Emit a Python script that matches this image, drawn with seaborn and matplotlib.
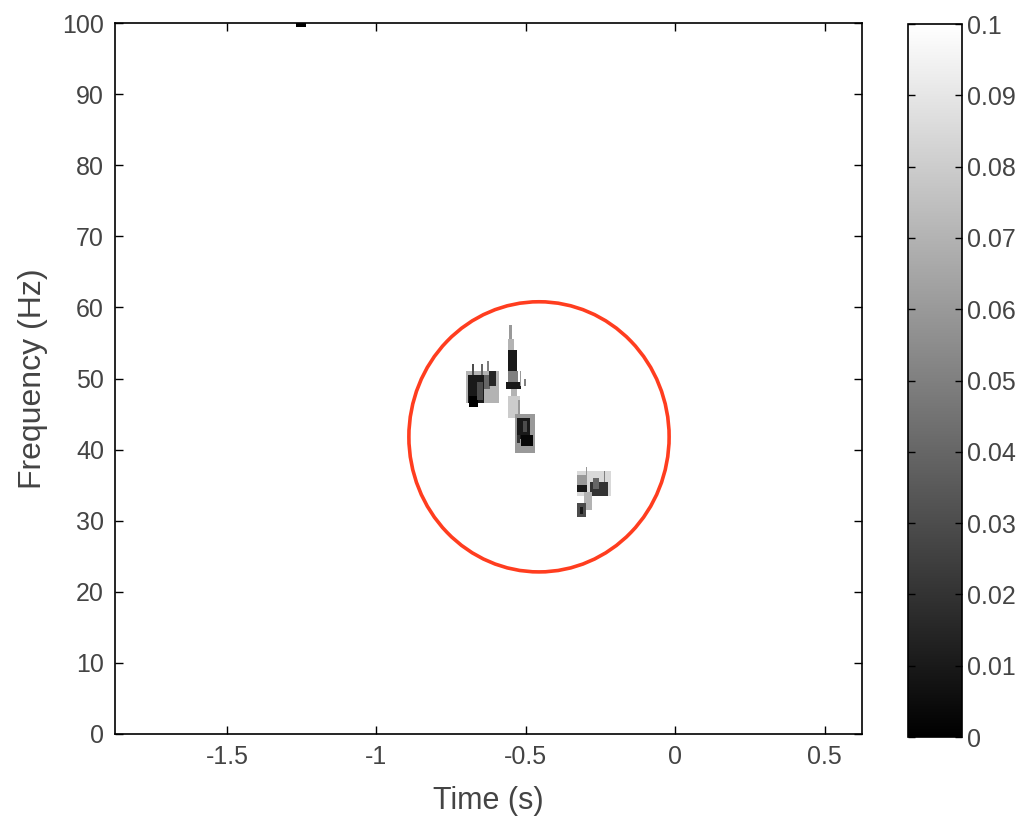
import numpy as np
import matplotlib
matplotlib.use("Agg")
import matplotlib.pyplot as plt
import seaborn as sns
from matplotlib.patches import Ellipse

# time / frequency grid of the map
t_start, t_stop, t_step = -1.875, 0.625, 0.005
f_start, f_stop, f_step = 0.0, 100.0, 0.5
background = 0.1

# low-value patches (time s, frequency Hz, value)
patch_t0 = [-0.700, -0.695, -0.690, -0.665, -0.640, -0.625, -0.680, -0.650, -0.628,
            -0.553, -0.560, -0.562, -0.560, -0.565, -0.548, -0.520, -0.505,
            -0.560, -0.535, -0.528, -0.514, -0.510, -0.530, -0.525,
            -0.332, -0.330, -0.330, -0.285, -0.275, -0.305, -0.328, -0.322, -0.300, -0.240,
            -1.270]
patch_t1 = [-0.590, -0.640, -0.660, -0.645, -0.620, -0.600, -0.675, -0.645, -0.623,
            -0.547, -0.540, -0.530, -0.525, -0.515, -0.528, -0.515, -0.500,
            -0.520, -0.470, -0.485, -0.477, -0.495, -0.520, -0.520,
            -0.215, -0.295, -0.295, -0.225, -0.255, -0.280, -0.298, -0.310, -0.295, -0.235,
            -1.235]
patch_f0 = [46.5, 46.5, 46.0, 47.0, 48.5, 49.0, 50.5, 50.5, 51.0,
            55.0, 53.5, 51.0, 48.8, 48.3, 45.5, 49.0, 49.0,
            44.5, 39.5, 41.5, 40.5, 42.5, 41.0, 45.0,
            33.5, 35.0, 34.0, 33.5, 34.5, 31.5, 30.5, 31.0, 36.0, 35.5,
            99.5]
patch_f1 = [51.0, 50.5, 47.5, 49.5, 50.5, 51.0, 52.0, 52.0, 52.5,
            57.5, 55.5, 54.0, 51.0, 49.3, 48.3, 51.0, 50.0,
            47.5, 45.0, 44.5, 42.0, 44.0, 42.0, 47.0,
            37.0, 36.5, 35.0, 35.5, 36.0, 34.0, 32.5, 32.0, 37.5, 37.0,
            100.0]
patch_val = [0.07, 0.01, 0.0, 0.03, 0.04, 0.015, 0.03, 0.04, 0.05,
             0.06, 0.07, 0.01, 0.05, 0.01, 0.07, 0.06, 0.05,
             0.08, 0.06, 0.01, 0.003, 0.03, 0.02, 0.06,
             0.085, 0.06, 0.01, 0.02, 0.04, 0.07, 0.03, 0.01, 0.06, 0.05,
             0.0]

time_ticks = [-1.5, -1, -0.5, 0, 0.5]
time_labels = ["-1.5", "-1", "-0.5", "0", "0.5"]
freq_ticks = [0, 10, 20, 30, 40, 50, 60, 70, 80, 90, 100]
cbar_ticks = [0, 0.01, 0.02, 0.03, 0.04, 0.05, 0.06, 0.07, 0.08, 0.09, 0.1]
cbar_labels = ["0", "0.01", "0.02", "0.03", "0.04", "0.05", "0.06", "0.07", "0.08", "0.09", "0.1"]

# red circle annotation (centre in s / Hz, size in s / Hz)
circle_t, circle_f = -0.456, 41.8
circle_w, circle_h = 0.871, 38.0

sns.set_style("white")
plt.rcParams["font.family"] = ["Liberation Sans", "DejaVu Sans"]

n_t = int(round((t_stop - t_start) / t_step))
n_f = int(round((f_stop - f_start) / f_step))
grid = np.full((n_f, n_t), background)
for t0, t1, f0, f1, v in zip(patch_t0, patch_t1, patch_f0, patch_f1, patch_val):
    i0 = int(round((t0 - t_start) / t_step))
    i1 = int(round((t1 - t_start) / t_step))
    j0 = int(round((f0 - f_start) / f_step))
    j1 = int(round((f1 - f_start) / f_step))
    grid[j0:j1, i0:i1] = v

fig = plt.figure(figsize=(10.28, 8.19), dpi=100)
ax = fig.add_axes([0.1119, 0.1038, 0.7266, 0.868])
cax = fig.add_axes([0.883, 0.100, 0.0525, 0.8706])

sns.heatmap(grid, ax=ax, cbar_ax=cax, cmap="gray", vmin=0, vmax=0.1,
            xticklabels=False, yticklabels=False)
ax.invert_yaxis()
ax.set_axisbelow(False)
cax.set_axisbelow(False)

text_col = "#444444"
ax.set_xticks([(t - t_start) / t_step for t in time_ticks])
ax.set_xticklabels(time_labels, rotation=0)
ax.set_yticks([(f - f_start) / f_step for f in freq_ticks])
ax.set_yticklabels([str(f) for f in freq_ticks], rotation=0)
ax.tick_params(direction="in", bottom=True, left=True, top=True, right=True,
               length=6, width=1, labelsize=18, labelcolor=text_col, color="black", pad=8)
for s in ax.spines.values():
    s.set_visible(True)
    s.set_color("black")
    s.set_linewidth(1.2)

ax.set_xlabel("Time (s)", fontsize=22, color=text_col, labelpad=12)
ax.set_ylabel("Frequency (Hz)", fontsize=23, color=text_col, labelpad=10)

ax.add_patch(Ellipse(((circle_t - t_start) / t_step, (circle_f - f_start) / f_step),
                     circle_w / t_step, circle_h / f_step,
                     fill=False, edgecolor="#FF3D1F", linewidth=2.6, clip_on=False))

cbar = ax.collections[0].colorbar
cbar.set_ticks(cbar_ticks)
cbar.set_ticklabels(cbar_labels)
cbar.ax.tick_params(direction="in", left=True, right=True, length=5, width=1,
                    labelsize=18, labelcolor=text_col, color="black", pad=4)
cbar.outline.set_edgecolor("black")
cbar.outline.set_linewidth(1.2)

fig.savefig("out.png", dpi=100)
